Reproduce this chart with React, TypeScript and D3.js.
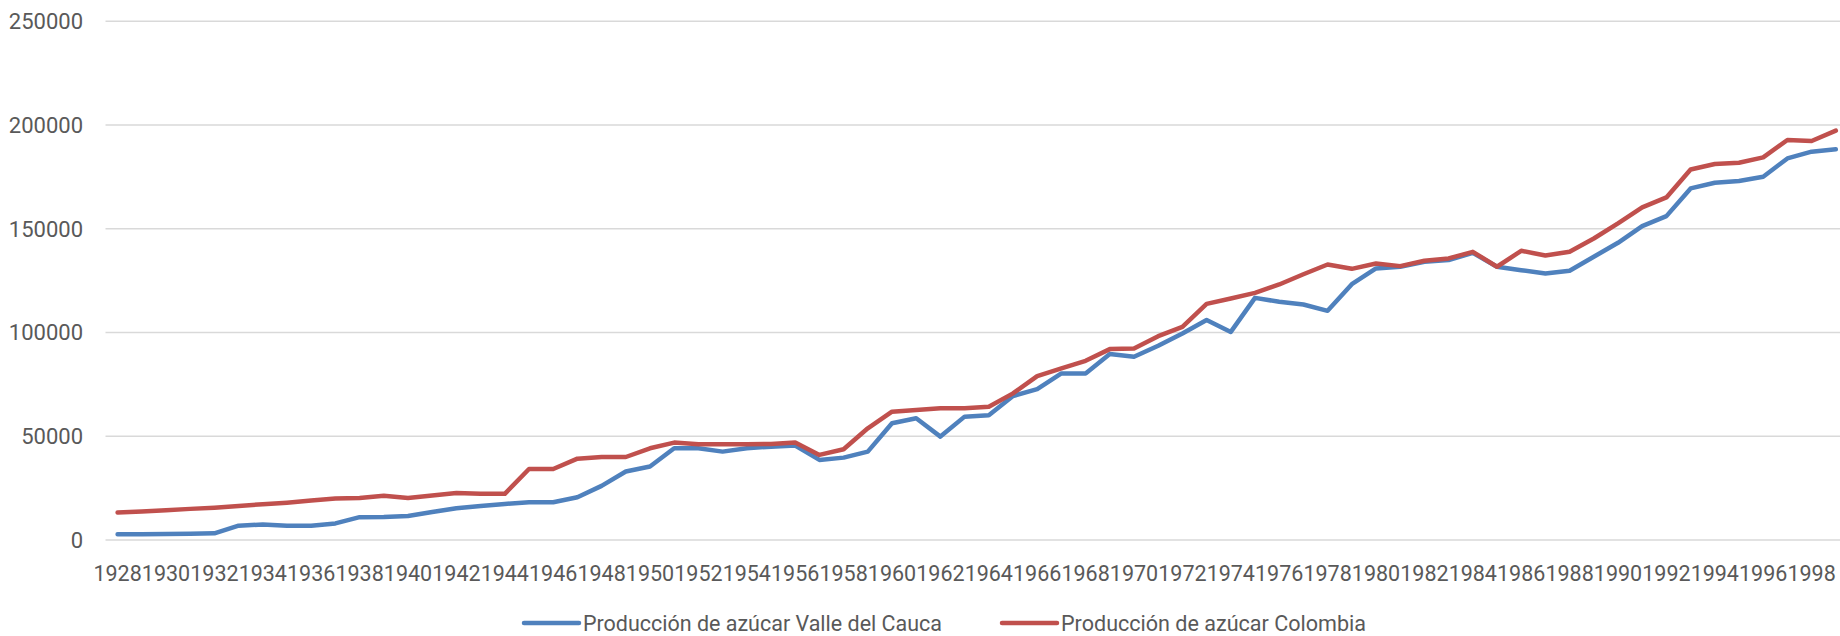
import React, { useEffect, useRef } from "react";
import * as d3 from "d3";

// years on the category axis
const years: string[] = d3.range(1928, 2000).map(String);

// Producción de azúcar Valle del Cauca
const valleValues: number[] = [
  2750, 2800, 2900, 3000, 3200, 6900, 7500, 6900, 6900, 8000,
  11000, 11100, 11600, 13500, 15300, 16400, 17400, 18200, 18200, 20600,
  26100, 33000, 35400, 44200, 44200, 42600, 44200, 45000, 45500, 38600,
  39700, 42600, 56250, 58650, 49840, 59460, 60100, 69400, 72760, 80300,
  80300, 89600, 88300, 93600, 99500, 106000, 100300, 116700, 114800, 113500,
  110450, 123300, 130900, 131700, 134100, 134900, 138400, 131700, 130060, 128460,
  129750, 136500, 143250, 151300, 156100, 169450, 172200, 173000, 175100, 183900,
  187150, 188300,
];

// Producción de azúcar Colombia
const colombiaValues: number[] = [
  13200, 13700, 14350, 15000, 15600, 16400, 17250, 18000, 19000, 20000,
  20200, 21300, 20200, 21450, 22600, 22250, 22250, 34200, 34200, 39200,
  40000, 40000, 44200, 46950, 46150, 46150, 46150, 46300, 46950, 41000,
  43750, 53850, 61860, 62660, 63460, 63460, 64260, 70670, 79000, 82700,
  86380, 92000, 92300, 98240, 102700, 113800, 116400, 119100, 123150, 128100,
  132800, 130700, 133300, 132000, 134600, 135700, 138900, 131700, 139400, 137100,
  138900, 145300, 152600, 160300, 165100, 178600, 181200, 181800, 184400, 192800,
  192300, 197300,
];

const yTicks: number[] = [0, 50000, 100000, 150000, 200000, 250000];

const seriesNames: string[] = [
  "Producción de azúcar Valle del Cauca",
  "Producción de azúcar Colombia",
];
const seriesColors: string[] = ["#4f81bd", "#c0504d"];

const App = () => {
  const svgRef = useRef<SVGSVGElement | null>(null);

  useEffect(() => {
    const width = 1840;
    const height = 636;
    const plotLeft = 105.5;
    const band = 24.2;
    const font = "Roboto, 'Liberation Sans', sans-serif";
    const textColor = "#595959";

    const svg = d3.select(svgRef.current);
    svg.selectAll("*").remove();
    svg.attr("width", width).attr("height", height);

    const x = d3
      .scaleBand()
      .domain(years)
      .range([plotLeft, plotLeft + band * years.length]);

    const y = d3.scaleLinear().domain([0, 250000]).range([540, 21.3]);

    // gridlines
    svg
      .append("g")
      .selectAll("line")
      .data(yTicks)
      .enter()
      .append("line")
      .attr("x1", plotLeft)
      .attr("x2", width)
      .attr("y1", (d) => y(d))
      .attr("y2", (d) => y(d))
      .attr("stroke", "#d9d9d9")
      .attr("stroke-width", 1.5);

    // y labels
    svg
      .append("g")
      .selectAll("text")
      .data(yTicks)
      .enter()
      .append("text")
      .attr("x", 83)
      .attr("y", (d) => y(d))
      .attr("dy", "0.36em")
      .attr("text-anchor", "end")
      .attr("font-family", font)
      .attr("font-size", 22)
      .attr("fill", textColor)
      .text((d) => String(d));

    // x labels, every second year
    svg
      .append("g")
      .selectAll("text")
      .data(years.filter((_, i) => i % 2 === 0))
      .enter()
      .append("text")
      .attr("x", (d) => (x(d) as number) + x.bandwidth() / 2)
      .attr("y", 581)
      .attr("text-anchor", "middle")
      .attr("font-family", font)
      .attr("font-size", 21.5)
      .attr("fill", textColor)
      .text((d) => d);

    // lines
    const line = d3
      .line<number>()
      .x((_, i) => (x(years[i]) as number) + x.bandwidth() / 2)
      .y((d) => y(d));

    [valleValues, colombiaValues].forEach((values, k) => {
      svg
        .append("path")
        .datum(values)
        .attr("d", line)
        .attr("fill", "none")
        .attr("stroke", seriesColors[k])
        .attr("stroke-width", 4.5)
        .attr("stroke-linejoin", "round")
        .attr("stroke-linecap", "round");
    });

    // legend
    const legendItems = [
      { x: 524, textLen: 359 },
      { x: 1002, textLen: 305 },
    ];
    const legend = svg.append("g");
    legendItems.forEach((item, k) => {
      legend
        .append("line")
        .attr("x1", item.x)
        .attr("x2", item.x + 55)
        .attr("y1", 623)
        .attr("y2", 623)
        .attr("stroke", seriesColors[k])
        .attr("stroke-width", 4.5)
        .attr("stroke-linecap", "round");
      legend
        .append("text")
        .attr("x", item.x + 59)
        .attr("y", 623)
        .attr("dy", "0.36em")
        .attr("font-family", font)
        .attr("font-size", 21.5)
        .attr("fill", textColor)
        .attr("textLength", item.textLen)
        .attr("lengthAdjust", "spacingAndGlyphs")
        .text(seriesNames[k]);
    });
  }, []);

  return (
    <div style={{ position: "absolute", left: 0, top: 0, background: "#fff" }}>
      <svg ref={svgRef} style={{ display: "block" }}></svg>
    </div>
  );
};

export default App;
